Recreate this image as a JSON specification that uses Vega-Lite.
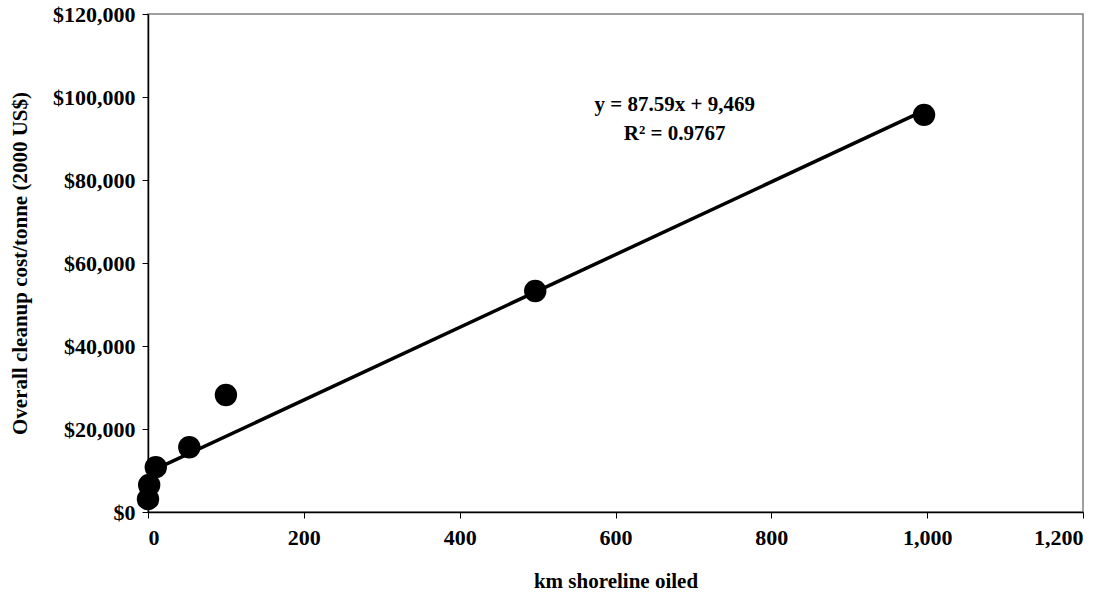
{
  "$schema": "https://vega.github.io/schema/vega-lite/v6.json",
  "autosize": {"type": "none"},
  "width": 935,
  "height": 498,
  "padding": {"left": 148, "top": 14, "right": 30, "bottom": 80},
  "background": "white",
  "config": {
    "font": "Liberation Serif",
    "view": {"stroke": "#808080", "strokeWidth": 1.5},
    "axis": {
      "grid": false,
      "domainColor": "#000000",
      "domainWidth": 1.5,
      "tickColor": "#000000",
      "tickSize": 6,
      "labelFont": "Liberation Serif",
      "labelFontWeight": "bold",
      "labelFontSize": 22,
      "labelColor": "#000000",
      "titleFont": "Liberation Serif",
      "titleFontWeight": "bold",
      "titleFontSize": 21,
      "titleColor": "#000000"
    }
  },
  "datasets": {
    "points": [
      {"km": 0, "cost": 3100},
      {"km": 1.5, "cost": 6500},
      {"km": 10, "cost": 10800},
      {"km": 53, "cost": 15600},
      {"km": 100, "cost": 28200},
      {"km": 497, "cost": 53250},
      {"km": 996, "cost": 95700}
    ],
    "trend": [
      {"km": 0, "cost": 9469},
      {"km": 996, "cost": 96709}
    ],
    "labels": [
      {"km": 676, "cost": 98000, "text": "y = 87.59x + 9,469"},
      {"km": 676, "cost": 91100, "text": "R² = 0.9767"}
    ]
  },
  "layer": [
    {
      "data": {"name": "trend"},
      "mark": {"type": "line", "color": "#000000", "strokeWidth": 3.5},
      "encoding": {
        "x": {"field": "km", "type": "quantitative"},
        "y": {"field": "cost", "type": "quantitative"}
      }
    },
    {
      "data": {"name": "points"},
      "mark": {"type": "point", "filled": true, "shape": "circle", "color": "#000000", "opacity": 1, "size": 500},
      "encoding": {
        "x": {
          "field": "km", "type": "quantitative",
          "scale": {"domain": [0, 1200], "nice": false, "zero": false},
          "axis": {"values": [0, 200, 400, 600, 800, 1000, 1200], "format": ",d", "title": "km shoreline oiled", "labelPadding": 9, "titlePadding": 22}
        },
        "y": {
          "field": "cost", "type": "quantitative",
          "scale": {"domain": [0, 120000], "nice": false},
          "axis": {"values": [0, 20000, 40000, 60000, 80000, 100000, 120000], "format": "$,.0f", "title": "Overall cleanup cost/tonne (2000 US$)", "labelPadding": 7, "titlePadding": 22}
        }
      }
    },
    {
      "data": {"name": "labels"},
      "mark": {"type": "text", "font": "Liberation Serif", "fontWeight": "bold", "fontSize": 21, "color": "#000000", "align": "center", "baseline": "middle"},
      "encoding": {
        "x": {"field": "km", "type": "quantitative"},
        "y": {"field": "cost", "type": "quantitative"},
        "text": {"field": "text"}
      }
    }
  ]
}
